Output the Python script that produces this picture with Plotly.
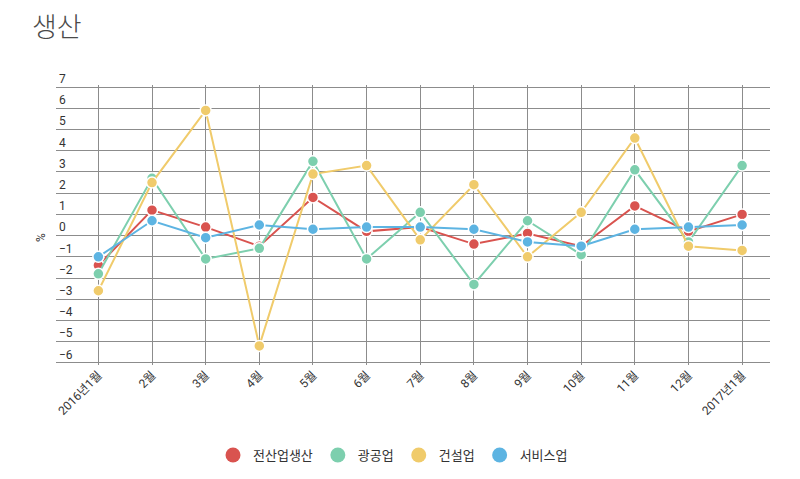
import plotly.graph_objects as go

categories = ["2016년1월", "2월", "3월", "4월", "5월", "6월", "7월", "8월", "9월", "10월", "11월", "12월", "2017년1월"]
all_industry = [-1.4, 1.2, 0.4, -0.5, 1.8, 0.2, 0.4, -0.4, 0.1, -0.5, 1.4, 0.2, 1.0]
mining_mfg = [-1.8, 2.7, -1.1, -0.6, 3.5, -1.1, 1.1, -2.3, 0.7, -0.9, 3.1, -0.3, 3.3]
construction = [-2.6, 2.5, 5.9, -5.2, 2.9, 3.3, -0.2, 2.4, -1.0, 1.1, 4.6, -0.5, -0.7]
services = [-1.0, 0.7, -0.1, 0.5, 0.3, 0.4, 0.4, 0.3, -0.3, -0.5, 0.3, 0.4, 0.5]

series_names = ["전산업생산", "광공업", "건설업", "서비스업"]
series_values = [all_industry, mining_mfg, construction, services]
colors = ["#d9534f", "#7dcfae", "#f0cb6b", "#5db4e2"]

font_family = "Roboto, Noto Sans CJK KR, sans-serif"

fig = go.Figure()
for name, vals, c in zip(series_names, series_values, colors):
    fig.add_trace(go.Scatter(
        x=categories, y=vals, mode="lines+markers", name=name,
        line=dict(color=c, width=2),
        marker=dict(size=11, color=c, line=dict(color="white", width=1.5)),
        showlegend=False, hoverinfo="x+y+name",
    ))
for name, c in zip(series_names, colors):
    fig.add_trace(go.Scatter(
        x=[None], y=[None], mode="markers", name=name,
        marker=dict(size=15, color=c), showlegend=True,
    ))

fig.update_layout(
    width=800, height=479,
    paper_bgcolor="white", plot_bgcolor="white",
    margin=dict(l=56, r=30, t=85, b=114, autoexpand=False),
    font=dict(family=font_family, color="#333333", size=12),
    title=dict(text="생산", x=0.04, xanchor="left", y=0.942, yanchor="middle",
               font=dict(family="Noto Sans CJK KR", size=27, color="#4a4a4a", weight=300)),
    legend=dict(orientation="h", x=0.472, xanchor="center", y=0.05, yref="container",
                yanchor="middle", font=dict(size=13, color="#333333"), itemsizing="trace"),
    showlegend=True,
)
fig.update_xaxes(
    type="category", range=[-0.79, 12.52], showgrid=True, gridcolor="#8c8c8c", gridwidth=1,
    tickangle=-45, showline=False, zeroline=False, ticks="", automargin=False,
    tickfont=dict(size=12, color="#333333"), fixedrange=True,
)
fig.update_yaxes(
    range=[-6.1, 7.1], dtick=1, tick0=0, showgrid=True, gridcolor="#8c8c8c", gridwidth=1,
    zeroline=True, zerolinecolor="#8c8c8c", zerolinewidth=1, automargin=False,
    ticklabelposition="inside top", ticklabeloverflow="allow", showline=False, ticks="",
    tickfont=dict(size=12, color="#333333"), fixedrange=True,
)
fig.add_annotation(text="%", xref="paper", yref="paper", x=-0.022, y=0.455,
                   xanchor="center", yanchor="middle", textangle=-90, showarrow=False,
                   font=dict(size=12, color="#333333"))

fig.write_html("out.html")
